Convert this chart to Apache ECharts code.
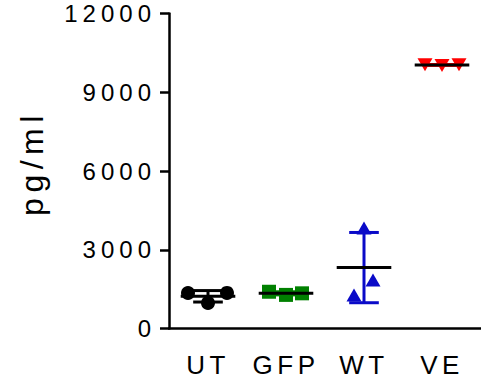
<!DOCTYPE html>
<html>
<head>
<meta charset="utf-8">
<script src="https://cdn.jsdelivr.net/npm/echarts@6/dist/echarts.min.js"></script>
<style>
  html, body { margin: 0; padding: 0; background: #ffffff; }
  #chart { width: 481px; height: 378px; }
</style>
</head>
<body>
<div id="chart"></div>
<script>
// Groups and measured concentrations (pg/ml), three replicates each
const categories = ['UT', 'GFP', 'WT', 'VE'];
const utValues  = [1350, 975, 1355];
const gfpValues = [1400, 1280, 1340];
const wtValues  = [3830, 1280, 1850];
const veValues  = [10050, 10020, 10050];
const yTickValues = [0, 3000, 6000, 9000, 12000];

const groups = [utValues, gfpValues, wtValues, veValues];
const colors = ['#000000', '#008000', '#0a0ac8', '#ff0000'];
const symbols = ['circle', 'rect', 'triangle', 'triangle'];
const symbolRotations = [0, 0, 0, 180];
const symbolSizes = [14, 14, [15, 13], [15, 13]];
// horizontal spread of replicate markers (px) so overlapping points stay visible
const spread = [[-20, 0, 19], [-17, 0, 16], [0, -10, 9], [-17, 0, 17]];

const FONT = "'Liberation Sans', Arial, sans-serif";
// extra tracking (px) per font size, for the widely spaced lettering
const tracking = { 24: 5, 26: 4.5, 32: 5.5 };

function meanSd(arr) {
  const n = arr.length;
  const m = arr.reduce((a, b) => a + b, 0) / n;
  const v = arr.reduce((a, b) => a + (b - m) * (b - m), 0) / (n - 1);
  return [m, Math.sqrt(v)];
}

const summary = groups.map((g, i) => {
  const [m, sd] = meanSd(g);
  return [i, m, sd];
});

const pointSeries = groups.map((g, gi) => ({
  type: 'scatter',
  z: 3,
  silent: true,
  symbol: symbols[gi],
  symbolRotate: symbolRotations[gi],
  symbolSize: symbolSizes[gi],
  itemStyle: { color: colors[gi], opacity: 1 },
  data: g.map((v, k) => ({ value: [gi, v], symbolOffset: [spread[gi][k], 0] }))
}));

const errorBarSeries = {
  type: 'custom',
  z: 2,
  silent: true,
  encode: { x: 0, y: 1 },
  data: summary,
  renderItem(params, api) {
    const i = api.value(0), m = api.value(1), sd = api.value(2);
    const band = api.size([1, 0])[0];
    const hi = api.coord([i, m + sd]);
    const lo = api.coord([i, m - sd]);
    const cap = band * 0.19;
    const st = { stroke: colors[i], lineWidth: 3 };
    return {
      type: 'group',
      children: [
        { type: 'line', shape: { x1: hi[0], y1: hi[1], x2: lo[0], y2: lo[1] }, style: st },
        { type: 'line', shape: { x1: hi[0] - cap, y1: hi[1], x2: hi[0] + cap, y2: hi[1] }, style: st },
        { type: 'line', shape: { x1: lo[0] - cap, y1: lo[1], x2: lo[0] + cap, y2: lo[1] }, style: st }
      ]
    };
  }
};

const meanSeries = {
  type: 'custom',
  z: 4,
  silent: true,
  encode: { x: 0, y: 1 },
  data: summary,
  renderItem(params, api) {
    const i = api.value(0), m = api.value(1);
    const band = api.size([1, 0])[0];
    const c = api.coord([i, m]);
    const half = band * 0.35;
    return {
      type: 'line',
      shape: { x1: c[0] - half, y1: c[1], x2: c[0] + half, y2: c[1] },
      style: { stroke: '#000000', lineWidth: 3 }
    };
  }
};

const chart = echarts.init(document.getElementById('chart'), null, { renderer: 'svg' });

function applyTracking() {
  document.querySelectorAll('#chart svg text').forEach(t => {
    const size = Math.round(parseFloat(getComputedStyle(t).fontSize));
    if (tracking[size] !== undefined) {
      t.setAttribute('letter-spacing', tracking[size]);
      t.style.letterSpacing = tracking[size] + 'px';
    }
  });
}
chart.on('finished', applyTracking);

chart.setOption({
  animation: false,
  backgroundColor: '#ffffff',
  grid: { left: 169, right: 0, top: 13.5, bottom: 49.5 },
  xAxis: {
    type: 'category',
    data: categories,
    boundaryGap: true,
    axisLine: { lineStyle: { color: '#000', width: 2.5 } },
    axisTick: { alignWithLabel: true, length: 9, lineStyle: { color: '#000', width: 2.5 } },
    axisLabel: { color: '#000', fontSize: 26, fontFamily: FONT, margin: 23 },
    splitLine: { show: false }
  },
  yAxis: {
    type: 'value',
    min: yTickValues[0],
    max: yTickValues[yTickValues.length - 1],
    interval: yTickValues[1] - yTickValues[0],
    name: 'pg/ml',
    nameLocation: 'middle',
    nameGap: 121,
    nameTextStyle: { color: '#000', fontSize: 32, fontFamily: FONT, padding: [0, 0, 0, 16] },
    axisLine: { show: true, lineStyle: { color: '#000', width: 2.5 } },
    axisTick: { show: true, length: 9, lineStyle: { color: '#000', width: 2.5 } },
    axisLabel: { color: '#000', fontSize: 24, fontFamily: FONT, margin: 13, formatter: v => String(v) },
    splitLine: { show: false }
  },
  series: [errorBarSeries, ...pointSeries, meanSeries]
});
applyTracking();
</script>
</body>
</html>
